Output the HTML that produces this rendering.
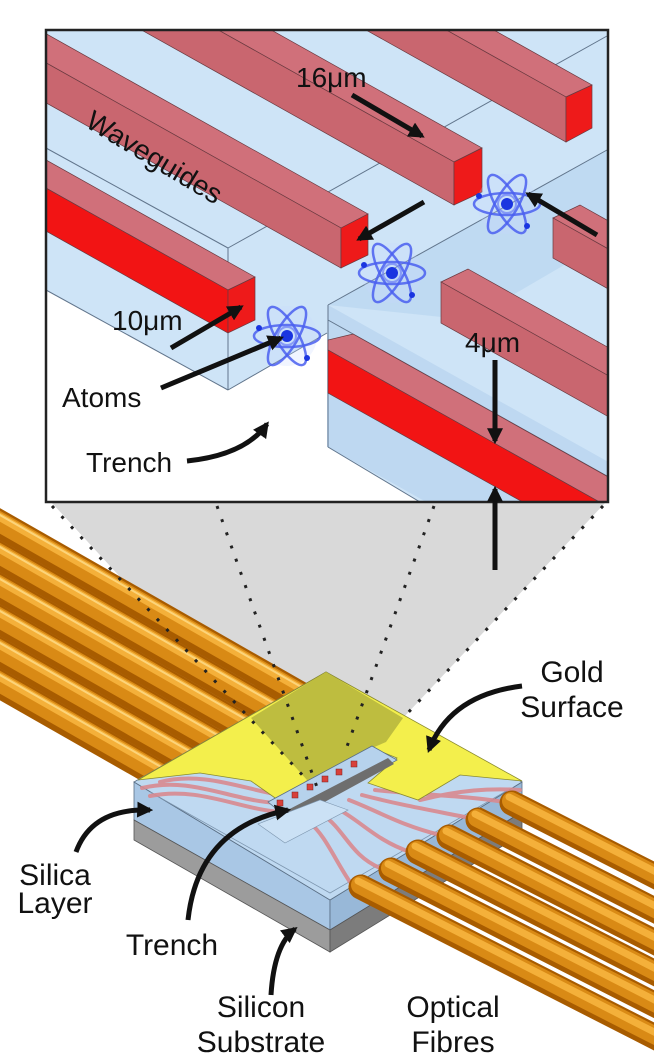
<!DOCTYPE html>
<html><head><meta charset="utf-8"><style>
html,body{margin:0;padding:0;background:#fff}
svg{display:block}
text{font-family:"Liberation Sans",Arial,sans-serif;fill:#111}
</style></head><body>
<svg width="654" height="1056" viewBox="0 0 654 1056" xmlns="http://www.w3.org/2000/svg">
<defs>
<clipPath id="box"><rect x="46" y="30" width="562" height="472"/></clipPath>
<clipPath id="lf"><polygon points="-50,400 812,400 -50,885"/></clipPath>
<marker id="ah" viewBox="0 0 10 10" refX="8" refY="5" markerWidth="3.2" markerHeight="3.2" orient="auto"><path d="M0,0 L10,5 L0,10 z" fill="#111"/></marker>
<g id="atom">
<circle r="30" fill="#c8d6ff" opacity="0.25"/>
<ellipse rx="33" ry="11" fill="none" stroke="#4a5ff0" stroke-width="2.5" opacity="0.85"/>
<ellipse rx="33" ry="11" fill="none" stroke="#4a5ff0" stroke-width="2.5" opacity="0.85" transform="rotate(60)"/>
<ellipse rx="33" ry="11" fill="none" stroke="#4a5ff0" stroke-width="2.5" opacity="0.85" transform="rotate(120)"/>
<circle r="9" fill="none" stroke="#6b7ff5" stroke-width="2" opacity="0.7"/>
<circle r="6" fill="#1a35e0"/>
<circle cx="-28" cy="-8" r="3" fill="#1a35e0"/>
<circle cx="20" cy="22" r="3" fill="#1a35e0"/>
</g>
</defs>

<!-- gray projection -->
<polygon points="52,503 605,503 403,718 307,780" fill="#d9d9d9"/>

<!-- left fibres -->
<g clip-path="url(#lf)" stroke-linecap="butt">
<g id="lfib">
<line x1="-60" y1="490" x2="380" y2="741" stroke="#a85c00" stroke-width="28"/>
<line x1="-60" y1="488" x2="380" y2="739" stroke="#d98a15" stroke-width="20"/>
<line x1="-58" y1="484" x2="382" y2="735" stroke="#f4b03a" stroke-width="8"/>
<line x1="-58" y1="482" x2="382" y2="733" stroke="#fcd47a" stroke-width="2"/>
</g>
<use href="#lfib" transform="translate(0,32)"/>
<use href="#lfib" transform="translate(0,64)"/>
<use href="#lfib" transform="translate(0,96)"/>
<use href="#lfib" transform="translate(0,128)"/>
<use href="#lfib" transform="translate(0,160)"/>
</g>

<!-- chip -->
<polygon points="134,782 330,900 330,930 134,820" fill="#a9c7e5" stroke="#5a6f85" stroke-width="0.8"/>
<polygon points="134,820 330,930 330,952 134,840" fill="#9c9c9c" stroke="#555" stroke-width="0.8"/>
<polygon points="330,900 522,782 522,812 330,930" fill="#98b8d8" stroke="#5a6f85" stroke-width="0.8"/>
<polygon points="330,930 522,812 522,834 330,952" fill="#7c7c7c" stroke="#555" stroke-width="0.8"/>
<polygon points="134,782 326,672 522,782 330,900" fill="#bfd9f1" stroke="#5a6f85" stroke-width="0.8"/>
<polyline points="150,792 330,893 508,790" fill="none" stroke="#7e97b0" stroke-width="0.8"/>
<!-- chip waveguides -->
<g fill="none" stroke="#d98a90" stroke-width="4" stroke-linecap="round" opacity="0.9">
<path d="M142,788 C190,776 230,800 276,803"/>
<path d="M150,796 C200,786 240,810 282,812"/>
<path d="M160,782 C205,770 250,792 288,796"/>
<path d="M310,823 C325,835 335,860 350,882"/>
<path d="M323,815 C345,830 350,855 380,868"/>
<path d="M336,808 C360,820 375,840 410,852"/>
<path d="M349,800 C380,812 400,825 440,835"/>
<path d="M362,795 C400,805 430,810 470,818"/>
<path d="M375,790 C420,795 460,795 505,802"/>
<path d="M420,800 C460,790 490,788 520,790"/>
</g>
<!-- gold -->
<polygon points="138,780 326,672 522,781 460,775 418,800 368,783 397,758 372,748 278,800 251,781 200,773" fill="#f3ef4c" stroke="#8a8a30" stroke-width="0.8"/>
<polygon points="251,718 326,672 403,718 386,742 372,748 290,793 307,780" fill="#bebd3f"/>
<!-- trench -->
<polygon points="268,802 372,746 397,760 290,820" fill="#b6d2ec" stroke="#5a6f85" stroke-width="0.8"/>
<polygon points="280,814 388,758 394,764 288,822" fill="#6e6e6e"/>
<polygon points="258,824 285,843 348,810 320,800" fill="#cbe1f5" stroke="#7e97b0" stroke-width="0.6"/>
<g fill="#d8403a" stroke="#7a2020" stroke-width="0.5">
<rect x="277" y="800" width="6" height="6"/><rect x="292" y="792" width="6" height="6"/>
<rect x="307" y="784" width="6" height="6"/><rect x="322" y="776" width="6" height="6"/>
<rect x="336" y="769" width="6" height="6"/><rect x="351" y="761" width="6" height="6"/>
</g>

<!-- right fibres -->
<g stroke-linecap="round">
<g id="rfib">
<line x1="512" y1="803" x2="912" y2="1007" stroke="#a85c00" stroke-width="25"/>
<line x1="511" y1="801" x2="911" y2="1005" stroke="#d98a15" stroke-width="18"/>
<line x1="509" y1="797" x2="909" y2="1001" stroke="#f4b03a" stroke-width="7"/>
</g>
<use href="#rfib" transform="translate(-34,17)"/>
<use href="#rfib" transform="translate(-63,34)"/>
<use href="#rfib" transform="translate(-94,49)"/>
<use href="#rfib" transform="translate(-121,67)"/>
<use href="#rfib" transform="translate(-151,84)"/>
</g>

<!-- dotted projection lines -->
<g stroke="#222" stroke-width="3" stroke-dasharray="3 11" fill="none">
<line x1="52" y1="506" x2="307" y2="780"/>
<line x1="217" y1="506" x2="318" y2="790"/>
<line x1="434" y1="506" x2="345" y2="752"/>
<line x1="603" y1="506" x2="403" y2="718"/>
</g>

<!-- TOP BOX -->
<g clip-path="url(#box)">
<rect x="46" y="30" width="562" height="472" fill="#cee4f7"/>
<polygon points="328,305 1028,697 1028,839 328,447" fill="#bed8f1"/>
<polygon points="328,305 607,150 607,240 470,320" fill="#b9d5f0" opacity="0.7"/>
<polygon points="46,290 228,390 327,333 327,447 420,502 46,502" fill="#ffffff"/>
<!-- lines -->
<g stroke="#61758c" stroke-width="1" fill="none">
<line x1="228" y1="248" x2="228" y2="390"/>
<line x1="228" y1="390" x2="327" y2="333"/>
<line x1="46" y1="290" x2="228" y2="390"/>
<line x1="228" y1="248" x2="607" y2="36"/>
<line x1="46" y1="148" x2="228" y2="248"/>
<line x1="328" y1="305" x2="607" y2="150"/>
<line x1="328" y1="305" x2="328" y2="447"/>
<line x1="328" y1="447" x2="420" y2="502"/>
<line x1="328" y1="320" x2="607" y2="476"/>
</g>
<!-- bars back -->
<g stroke="#6a3a40" stroke-width="0.7">
<!-- TR -->
<polygon points="566,97 592,85 -108,-307 -134,-295" fill="#d0707a"/>
<polygon points="566,97 566,142 -134,-250 -134,-295" fill="#c9666f"/>
<polygon points="566,97 592,85 592,128 566,142" fill="#ee1a1a"/>
<!-- M -->
<polygon points="454,162 482,148 -218,-244 -246,-230" fill="#d0707a"/>
<polygon points="454,162 454,205 -246,-187 -246,-230" fill="#c9666f"/>
<polygon points="454,162 482,148 482,192 454,205" fill="#ee1a1a"/>
<!-- W -->
<polygon points="341,228 368,214 -332,-178 -359,-164" fill="#d0707a"/>
<polygon points="341,228 341,268 -359,-124 -359,-164" fill="#c9666f"/>
<polygon points="341,228 368,214 368,255 341,268" fill="#ee1a1a"/>
<!-- Left -->
<polygon points="228,290 255,277 -445,-115 -472,-102" fill="#d0707a"/>
<polygon points="228,290 228,333 -472,-59 -472,-102" fill="#f21414"/>
<polygon points="228,290 255,277 255,320 228,333" fill="#ee1a1a"/>
<!-- FR -->
<polygon points="553,218 580,205 1280,597 1253,610" fill="#d0707a"/>
<polygon points="553,218 553,258 1253,650 1253,610" fill="#c9666f"/>
<!-- RM -->
<polygon points="441,282 468,269 1168,661 1141,674" fill="#d0707a"/>
<polygon points="441,282 441,323 1141,715 1141,674" fill="#c9666f"/>
<!-- RL -->
<polygon points="328,350 328,340 353,334 1053,726 1028,742" fill="#d0707a"/>
<polygon points="328,350 328,393 1028,785 1028,742" fill="#f21414"/>
</g>
<text x="0" y="0" font-size="28" transform="translate(84,126) rotate(31)">Waveguides</text>
<use href="#atom" transform="translate(287,336)"/>
<use href="#atom" transform="translate(392,273)"/>
<use href="#atom" transform="translate(507,204)"/>
</g>
<rect x="46" y="30" width="562" height="472" fill="none" stroke="#222" stroke-width="2.5"/>

<!-- top arrows -->
<g stroke="#111" stroke-width="5" fill="none" marker-end="url(#ah)">
<line x1="352" y1="95" x2="422" y2="136"/>
<line x1="424" y1="202" x2="359" y2="239"/>
<line x1="597" y1="235" x2="528" y2="194"/>
<line x1="171" y1="348" x2="241" y2="307"/>
<line x1="161" y1="388" x2="281" y2="338"/>
<path d="M187,461 Q245,455 267,424"/>
<line x1="495" y1="360" x2="495" y2="441"/>
<line x1="495" y1="570" x2="495" y2="489"/>
</g>
<g font-size="28">
<text x="296" y="87">16μm</text>
<text x="112" y="330">10μm</text>
<text x="62" y="407">Atoms</text>
<text x="86" y="472">Trench</text>
<text x="465" y="352">4μm</text>
</g>

<!-- bottom arrows -->
<g stroke="#111" stroke-width="5" fill="none" marker-end="url(#ah)">
<path d="M522,686 Q450,695 429,750"/>
<path d="M76,852 Q92,808 150,810"/>
<path d="M188,920 Q198,828 288,810"/>
<path d="M271,995 Q274,945 295,929"/>
</g>
<g font-size="30">
<text x="572" y="682" text-anchor="middle">Gold</text>
<text x="572" y="717" text-anchor="middle">Surface</text>
<text x="55" y="885" text-anchor="middle">Silica</text>
<text x="55" y="913" text-anchor="middle">Layer</text>
<text x="172" y="955" text-anchor="middle">Trench</text>
<text x="261" y="1017" text-anchor="middle">Silicon</text>
<text x="261" y="1052" text-anchor="middle">Substrate</text>
<text x="453" y="1017" text-anchor="middle">Optical</text>
<text x="453" y="1052" text-anchor="middle">Fibres</text>
</g>
</svg>
</body></html>
